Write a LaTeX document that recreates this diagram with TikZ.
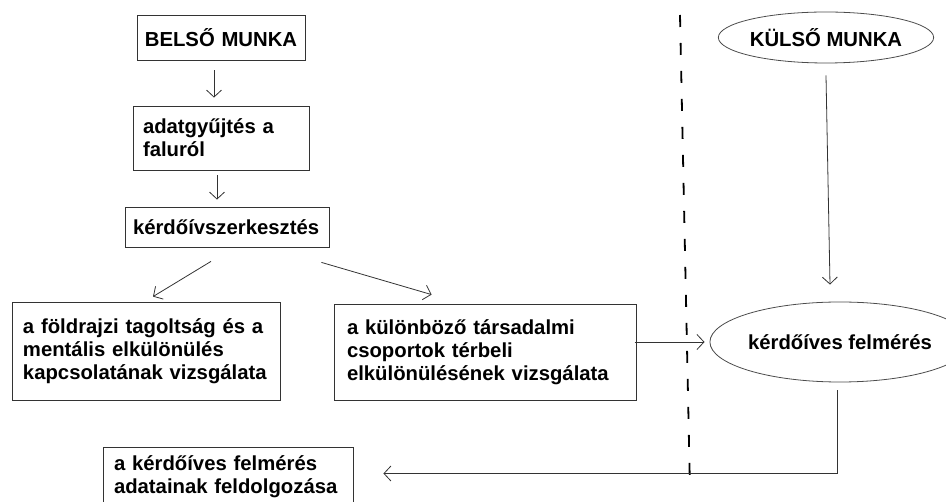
\documentclass[tikz,border=0pt]{standalone}
\usepackage{fontspec}
\setmainfont{Liberation Sans}
\usetikzlibrary{arrows.meta,shapes.geometric}
\tikzset{
  box/.style={draw=black!80, line width=0.8pt, rectangle, align=left, inner ysep=0pt,
    font=\fontsize{20.3}{23}\selectfont\bfseries},
  oval/.style={draw=black!70, line width=0.8pt, ellipse, inner sep=0pt,
    font=\fontsize{20.3}{23}\selectfont\bfseries},
  arr/.style={draw=black!80, line width=0.8pt, -{Straight Barb[length=7pt,width=15pt]}}
}
\begin{document}
\begin{tikzpicture}[x=1pt,y=-1pt]
  \useasboundingbox (0,0) rectangle (946,502);
  % inner work (left side)
  \node[box, align=center, text width=160pt, inner xsep=4pt, minimum height=45pt] (belso) at (221,37.5) {BELSŐ MUNKA};
  \node[box, text width=156pt, inner xsep=10pt, minimum height=64pt] (adat) at (221,138) {adatgyűjtés a\\faluról};
  \node[box, text width=188pt, inner xsep=8pt, minimum height=40pt] (kerdoiv) at (227,227) {kérdőívszerkesztés};
  \node[box, text width=246pt, inner xsep=11pt, minimum height=98pt] (foldr) at (146,351) {a földrajzi tagoltság és a\\mentális elkülönülés\\kapcsolatának vizsgálata};
  \node[box, text width=276pt, inner xsep=13pt, minimum height=96pt] (tars) at (485,352) {a különböző társadalmi\\csoportok térbeli\\elkülönülésének vizsgálata};
  \node[box, text width=228pt, inner xsep=11pt, minimum height=59pt] (feldolg) at (228,476.5) {a kérdőíves felmérés\\adatainak feldolgozása};
  % outer work (right side)
  \node[oval, minimum width=194pt, minimum height=51pt] (kulso) at (826,37.5) {KÜLSŐ MUNKA};
  \node[oval, minimum width=222pt, minimum height=80pt] (felmeres) at (840,342) {kérdőíves felmérés};
  % separator
  \draw[line width=1.8pt, dash pattern=on 12pt off 16pt] (680,15) -- (690,490);
  % connectors
  \draw[arr] ([xshift=-7pt,yshift=-10pt]belso.south) -- ([xshift=-7pt,yshift=8pt]adat.north);
  \draw[arr] ([xshift=-4pt,yshift=-5pt]adat.south) -- ([xshift=-10pt,yshift=7pt]kerdoiv.north);
  \draw[arr] ([xshift=-16pt,yshift=-14pt]kerdoiv.south) -- ([xshift=7pt,yshift=5pt]foldr.north);
  \draw[arr] ([xshift=-8pt,yshift=-15pt]kerdoiv.south east) -- ([xshift=98pt,yshift=9pt]tars.north west);
  \draw[arr] ([xshift=-75pt]felmeres.west) -- ([xshift=-5pt]felmeres.west);
  \draw[arr] ([yshift=-12pt]kulso.south) -- ([xshift=-10pt,yshift=17pt]felmeres.north);
  \draw[arr] ([xshift=-3pt,yshift=-8pt]felmeres.south) |- ([xshift=30pt,yshift=3pt]feldolg.east);
\end{tikzpicture}
\end{document}
